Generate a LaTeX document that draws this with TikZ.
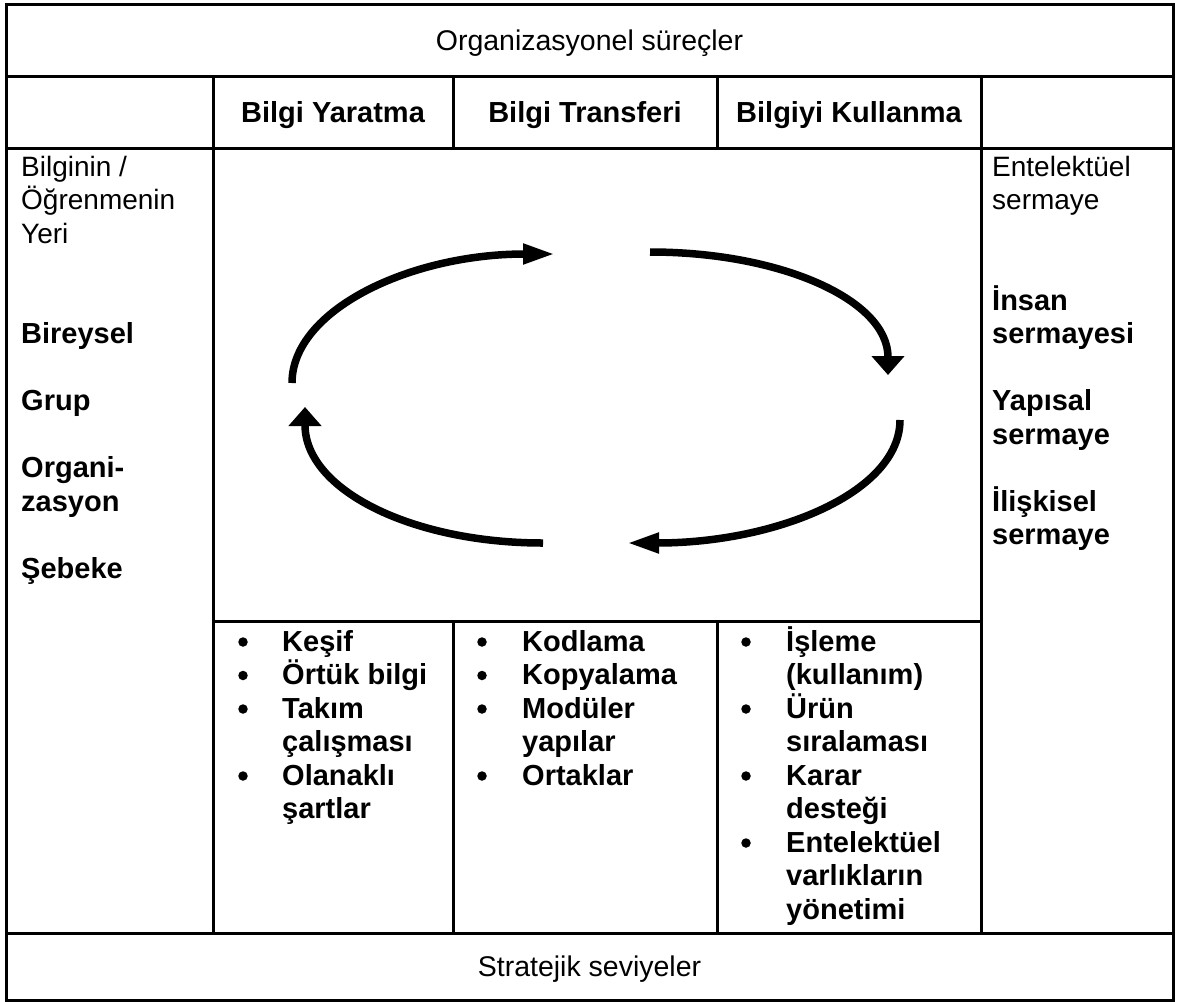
\documentclass[tikz,border=0pt]{standalone}
\usepackage{fontspec}
\setmainfont{Liberation Sans}
\usetikzlibrary{arrows.meta}
\begin{document}
\begin{tikzpicture}[x=1pt,y=-1pt,
  grid/.style={line width=3pt, line cap=rect},
  txt/.style={font=\fontsize{28}{33.5}\selectfont, inner sep=0pt, anchor=base west},
  ctr/.style={font=\fontsize{28.5}{33.5}\selectfont, inner sep=0pt, anchor=base},
  btxt/.style={font=\fontsize{29}{33.5}\selectfont\bfseries, inner sep=0pt, anchor=base west},
  bctr/.style={font=\fontsize{29}{33.5}\selectfont\bfseries, inner sep=0pt, anchor=base},
  cyc/.style={line width=7.5pt},
  hh/.style={-{Triangle[length=32pt,width=19pt]}},
  hv/.style={-{Triangle[length=19pt,width=32pt]}},
  dot/.style={circle, fill=black, inner sep=0pt, minimum size=9.5pt}
]
\useasboundingbox (0,0) rectangle (1187,1002);
% table
\draw[grid] (6,4) rectangle (1173,1000);
\draw[grid] (6,76) -- (1173,76);
\draw[grid] (6,148) -- (1173,148);
\draw[grid] (213,621) -- (981,621);
\draw[grid] (6,933) -- (1173,933);
\draw[grid] (213,76) -- (213,933);
\draw[grid] (981,76) -- (981,933);
\draw[grid] (453,76) -- (453,148);
\draw[grid] (717,76) -- (717,148);
\draw[grid] (453,621) -- (453,933);
\draw[grid] (717,621) -- (717,933);
% titles
\node[ctr] (title) at (589.5,50) {Organizasyonel süreçler};
\node[ctr] (bottom) at (589.5,976) {Stratejik seviyeler};
\node[bctr] (h1) at (333,122) {Bilgi Yaratma};
\node[bctr] (h2) at (585,122) {Bilgi Transferi};
\node[bctr] (h3) at (849,122) {Bilgiyi Kullanma};
% left column
\node[txt] (l1) at (21,176) {Bilginin /};
\node[txt] (l2) at (21,209.5) {Öğrenmenin};
\node[txt] (l3) at (21,243) {Yeri};
\node[btxt] (l4) at (21,343.5) {Bireysel};
\node[btxt] (l5) at (21,410.5) {Grup};
\node[btxt] (l6) at (21,477.5) {Organi-};
\node[btxt] (l7) at (21,511) {zasyon};
\node[btxt] (l8) at (21,578) {Şebeke};
% right column
\node[txt] (r1) at (992,176) {Entelektüel};
\node[txt] (r2) at (992,209.5) {sermaye};
\node[btxt] (r3) at (992,310) {İnsan};
\node[btxt] (r4) at (992,343.5) {sermayesi};
\node[btxt] (r5) at (992,410.5) {Yapısal};
\node[btxt] (r6) at (992,444) {sermaye};
\node[btxt] (r7) at (992,511) {İlişkisel};
\node[btxt] (r8) at (992,544.5) {sermaye};
% column 1 bullets
\node[dot] (d11) at (243,642) {};
\node[dot] (d12) at (243,675.5) {};
\node[dot] (d13) at (243,709) {};
\node[dot] (d14) at (243,776) {};
\node[btxt] (c11) at (282,651) {Keşif};
\node[btxt] (c12) at (282,684.5) {Örtük bilgi};
\node[btxt] (c13) at (282,718) {Takım};
\node[btxt] (c14) at (282,751.5) {çalışması};
\node[btxt] (c15) at (282,785) {Olanaklı};
\node[btxt] (c16) at (282,818.5) {şartlar};
% column 2 bullets
\node[dot] (d21) at (482,642) {};
\node[dot] (d22) at (482,675.5) {};
\node[dot] (d23) at (482,709) {};
\node[dot] (d24) at (482,776) {};
\node[btxt] (c21) at (522,651) {Kodlama};
\node[btxt] (c22) at (522,684.5) {Kopyalama};
\node[btxt] (c23) at (522,718) {Modüler};
\node[btxt] (c24) at (522,751.5) {yapılar};
\node[btxt] (c25) at (522,785) {Ortaklar};
% column 3 bullets
\node[dot] (d31) at (746,642) {};
\node[dot] (d32) at (746,709) {};
\node[dot] (d33) at (746,776) {};
\node[dot] (d34) at (746,843) {};
\node[btxt] (c31) at (786,651) {İşleme};
\node[btxt] (c32) at (786,684.5) {(kullanım)};
\node[btxt] (c33) at (786,718) {Ürün};
\node[btxt] (c34) at (786,751.5) {sıralaması};
\node[btxt] (c35) at (786,785) {Karar};
\node[btxt] (c36) at (786,818.5) {desteği};
\node[btxt] (c37) at (786,852) {Entelektüel};
\node[btxt] (c38) at (786,885.5) {varlıkların};
\node[btxt] (c39) at (786,919) {yönetimi};
% cycle arrows
\coordinate (a1s) at (292,383);
\coordinate (a1e) at (555,254);
\coordinate (a2s) at (650,252);
\coordinate (a2e) at (888,375);
\coordinate (a3s) at (900,420);
\coordinate (a3e) at (627,543);
\coordinate (a4s) at (543,543);
\coordinate (a4e) at (305,407);
\draw[cyc,hh] (a1s) .. controls (292,310) and (410,254) .. (a1e);
\draw[cyc,hv] (a2s) .. controls (781,252) and (888,300) .. (a2e);
\draw[cyc,hh] (a3s) .. controls (900,492) and (777,543) .. (a3e);
\draw[cyc,hv] (a4s) .. controls (412,543) and (305,490) .. (a4e);
\end{tikzpicture}
\end{document}
